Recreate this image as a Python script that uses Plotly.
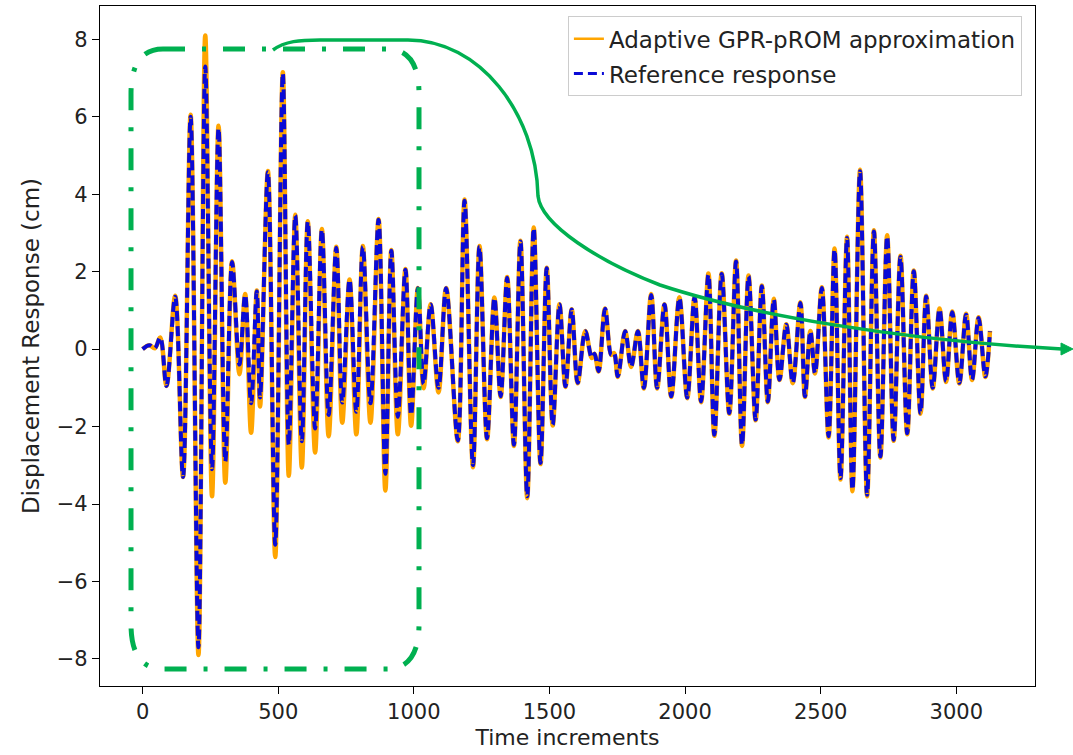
import plotly.graph_objects as go

# ---------------- data ----------------
time_inc = [0, 25, 45, 65, 88, 120, 149, 177, 206, 231, 256, 280, 305, 330, 357, 378, 400, 421, 433,
            462, 489, 517, 539, 563, 587, 609, 636, 661, 686, 714, 736, 763, 788, 812, 840, 870, 895,
            917, 941, 969, 990, 1015, 1036, 1062, 1091, 1119, 1162, 1187, 1218, 1242, 1270, 1297, 1320,
            1344, 1369, 1393, 1418, 1442, 1467, 1490, 1512, 1537, 1559, 1582, 1604, 1632, 1656, 1666,
            1681, 1705, 1728, 1738, 1752, 1779, 1801, 1826, 1848, 1875, 1897, 1924, 1949, 1979, 2008,
            2035, 2059, 2086, 2108, 2135, 2163, 2188, 2210, 2234, 2260, 2283, 2305, 2327, 2348, 2373,
            2397, 2425, 2442, 2462, 2479, 2504, 2529, 2551, 2573, 2597, 2617, 2645, 2671, 2696, 2720,
            2745, 2769, 2794, 2819, 2843, 2868, 2889, 2913, 2938, 2962, 2985, 3011, 3036, 3058, 3082,
            3107, 3124]

reference_resp = [0.0, 0.1, 0.02, 0.3, -0.95, 1.35, -3.3, 6.0, -7.7, 7.3, -3.1, 5.7, -2.9, 2.25, -0.4, 1.4, -1.4, 1.49, -1.25,
                  4.57, -5.05, 7.12, -2.47, 3.45, -2.38, 3.29, -2.05, 3.08, -1.7, 2.62, -1.38, 1.79, -1.62, 2.64, -1.4, 3.34, -3.22,
                  2.54, -1.75, 2.05, -1.7, 1.57, -0.9, 1.15, -1.0, 1.57, -2.36, 3.83, -3.0, 2.64, -2.3, 1.32, -1.22,
                  1.84, -2.47, 2.78, -3.8, 3.12, -2.94, 2.09, -1.95, 1.15, -0.96, 1.02, -0.87, 0.46, -0.22, -0.12,
                  -0.57, 1.04, -0.15, -0.1, -0.7, 0.46, -0.45, 0.46, -1.0, 1.4, -1.0, 1.15, -1.22, 1.32, -1.25,
                  1.34, -1.35, 1.92, -2.21, 1.94, -1.65, 2.26, -2.47, 1.88, -1.82, 1.62, -1.35, 1.28, -0.79, 0.63,
                  -0.87, 1.19, -1.22, 0.46, -0.62, 1.58, -2.25, 2.57, -3.33, 2.87, -3.63, 4.59, -3.76, 3.04, -2.77,
                  2.91, -2.34, 2.38, -2.17, 2.01, -1.65, 1.36, -1.0, 1.03, -0.83, 0.95, -0.87, 0.89, -0.79, 0.8,
                  -0.7, 0.46]

approx_resp = [0.0, 0.1, 0.02, 0.3, -0.95, 1.38, -3.3, 6.05, -7.9, 8.1, -3.8, 5.77, -3.45, 2.27, -0.65, 1.42, -2.16, 1.51, -1.48,
               4.6, -5.37, 7.15, -3.27, 3.47, -3.06, 3.3, -2.67, 3.1, -2.25, 2.64, -1.9, 1.8, -2.2, 2.66, -1.9, 3.36, -3.65,
               2.56, -2.2, 2.07, -1.98, 1.58, -1.01, 1.16, -1.12, 1.58, -2.38, 3.86, -3.05, 2.66, -2.33, 1.33, -1.24,
               1.86, -2.5, 2.8, -3.85, 3.14, -2.97, 2.1, -1.97, 1.16, -0.98, 1.03, -0.88, 0.47, -0.23, -0.12,
               -0.58, 1.05, -0.15, -0.1, -0.72, 0.47, -0.46, 0.47, -1.02, 1.42, -1.02, 1.16, -1.24, 1.34, -1.27,
               1.36, -1.37, 1.95, -2.24, 1.96, -1.67, 2.29, -2.5, 1.9, -1.84, 1.64, -1.37, 1.3, -0.8, 0.64,
               -0.88, 1.21, -1.24, 0.47, -0.63, 1.6, -2.28, 2.6, -3.37, 2.9, -3.67, 4.63, -3.8, 3.07, -2.8,
               2.94, -2.37, 2.41, -2.2, 2.03, -1.67, 1.38, -1.02, 1.05, -0.85, 0.97, -0.89, 0.91, -0.8, 0.82,
               -0.72, 0.47]

x_ticks = [0, 500, 1000, 1500, 2000, 2500, 3000]
y_ticks = [-8, -6, -4, -2, 0, 2, 4, 6, 8]

ORANGE = "#FFA500"
BLUE = "#0a0ad6"
GREEN = "#00B050"

# ---------------- layout geometry ----------------
W, H = 1073, 755
L, R, T, B = 100, 1035, 6, 686  # plot area in pixels


def paper(px, py):
    return (px - L) / (R - L), (B - py) / (B - T)


def path(cmds):
    out = []
    for c in cmds:
        if isinstance(c, str):
            out.append(c)
        else:
            x, y = paper(*c)
            out.append(f"{x:.5f},{y:.5f}")
    return " ".join(out)


# rounded dash-dot rectangle (pixel corners)
rx0, rx1, ry0, ry1, rad = 131, 419, 49, 669, 32
box_path = path(["M", (rx0 + rad, ry0), "L", (rx1 - rad, ry0),
                 "Q", (rx1, ry0), (rx1, ry0 + rad * 1.4), "L", (rx1, ry1 - rad * 1.4),
                 "Q", (rx1, ry1), (rx1 - rad, ry1), "L", (rx0 + rad, ry1),
                 "Q", (rx0, ry1), (rx0, ry1 - rad * 1.4), "L", (rx0, ry0 + rad * 1.4),
                 "Q", (rx0, ry0), (rx0 + rad, ry0), "Z"])

arrow_path = path(["M", (273, 50), "C", (285, 41), (300, 40), (320, 40), "L", (408, 40),
                   "C", (479, 40), (536, 112), (538, 196),
                   "C", (541, 225), (600, 262), (660, 285),
                   "C", (750, 315), (900, 340), (1062, 349)])

head_path = path(["M", (1073, 349), "L", (1061, 343), "L", (1061, 355), "Z"])

fig = go.Figure()
fig.add_trace(go.Scatter(x=time_inc, y=approx_resp, mode="lines",
                         name="Adaptive GPR-pROM approximation", showlegend=False,
                         line=dict(color=ORANGE, width=4.5, shape="spline", smoothing=1.0)))
fig.add_trace(go.Scatter(x=time_inc, y=reference_resp, mode="lines",
                         name="Reference response", showlegend=False,
                         line=dict(color=BLUE, width=4, dash="10px,5px", shape="spline", smoothing=1.0)))
# legend entries (thinner sample lines as in the reference legend)
fig.add_trace(go.Scatter(x=[None], y=[None], mode="lines", name="Adaptive GPR-pROM approximation",
                         line=dict(color=ORANGE, width=2.5), legendgroup="a"))
fig.add_trace(go.Scatter(x=[None], y=[None], mode="lines", name="Reference response",
                         line=dict(color=BLUE, width=3, dash="9px,5px"), legendgroup="b"))

fig.update_layout(
    width=W, height=H,
    margin=dict(l=L, r=W - R, t=T, b=H - B),
    paper_bgcolor="white", plot_bgcolor="white",
    font=dict(family="DejaVu Sans", size=21, color="#222222"),
    showlegend=True,
    legend=dict(x=0.986, y=0.985, xanchor="right", yanchor="top",
                bgcolor="rgba(255,255,255,0.9)", bordercolor="#cccccc", borderwidth=1,
                font=dict(size=23, color="#222222"), tracegroupgap=2, traceorder="grouped"),
    xaxis=dict(range=[-157, 3290], tickvals=x_ticks, ticks="outside", ticklen=7, tickwidth=1.3,
               tickcolor="black", showline=True, linecolor="black", linewidth=1.3, mirror=True,
               showgrid=False, zeroline=False,
               title=dict(text="Time increments", font=dict(size=22), standoff=6)),
    yaxis=dict(range=[-8.7, 8.86], tickvals=y_ticks, ticks="outside", ticklen=7, tickwidth=1.3,
               tickcolor="black", showline=True, linecolor="black", linewidth=1.3, mirror=True,
               showgrid=False, zeroline=False,
               title=dict(text="Displacement Response (cm)", font=dict(size=23), standoff=10)),
    shapes=[
        dict(type="path", xref="paper", yref="paper", path=box_path,
             line=dict(color=GREEN, width=5, dash="22px,17px,4px,17px"), layer="above"),
        dict(type="path", xref="paper", yref="paper", path=arrow_path,
             line=dict(color=GREEN, width=3.5), layer="above"),
        dict(type="path", xref="paper", yref="paper", path=head_path,
             line=dict(color=GREEN, width=1), fillcolor=GREEN, layer="above"),
    ],
)

fig.write_html("out.html")
